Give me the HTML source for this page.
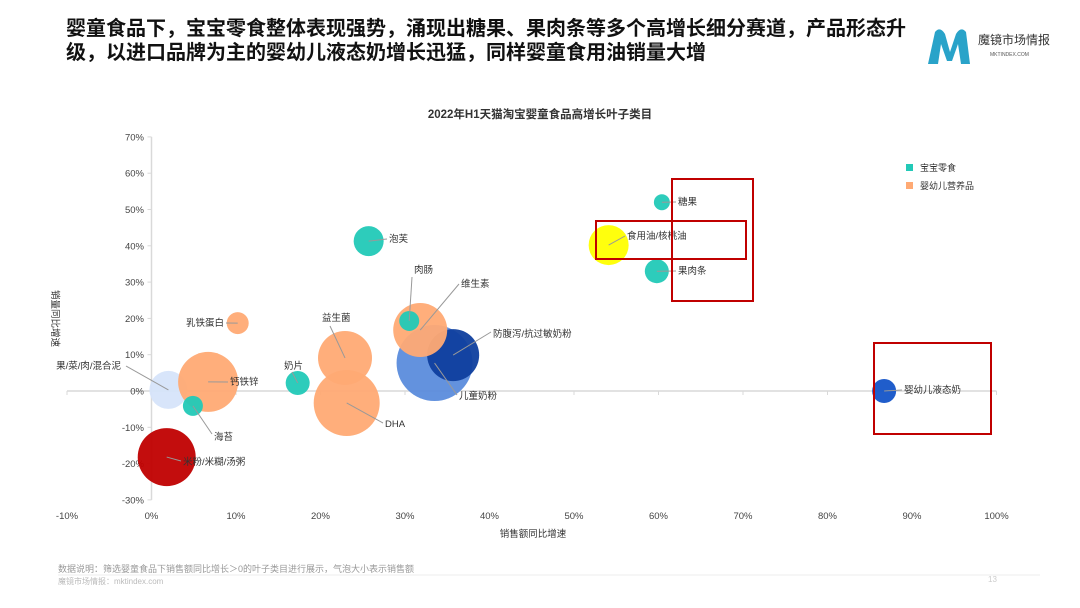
<!DOCTYPE html>
<html><head><meta charset="utf-8"><style>
body{margin:0;width:1080px;height:608px;background:#fff;overflow:hidden;position:relative;font-family:"Liberation Sans","Noto Sans CJK SC",sans-serif}
.h{position:absolute;left:66px;top:17px;font-size:20px;font-weight:bold;line-height:24px;color:#111;width:855px}
svg{position:absolute;left:0;top:0}
</style></head><body>
<div class="h">婴童食品下，宝宝零食整体表现强势，涌现出糖果、果肉条等多个高增长细分赛道，产品形态升级，以进口品牌为主的婴幼儿液态奶增长迅猛，同样婴童食用油销量大增</div>
<svg width="1080" height="608" id="c">
<g>
<path d="M928 64 L935 32 Q940 26 945 34 L950 52 L956 34 Q961 26 966 32 L970 64 L961 64 L958 44 L952 61 L947 61 L941 44 L938 64 Z" fill="#29a3c9"/>
<text x="978" y="44" font-size="12" fill="#333">魔镜市场情报</text>
<text x="990" y="56" font-size="5" fill="#555">MKTINDEX.COM</text>
</g>
<text x="540" y="118" text-anchor="middle" font-size="11.5" font-weight="bold" fill="#333">2022年H1天猫淘宝婴童食品高增长叶子类目</text>
<text x="533" y="537" text-anchor="middle" font-size="9.5" fill="#333">销售额同比增速</text>
<text transform="translate(52,290) rotate(90)" font-size="9.5" fill="#333">销量同比增速</text>
<g>
<rect x="906" y="164" width="7" height="7" fill="#22c9b7"/><text x="920" y="171" font-size="9" fill="#333">宝宝零食</text>
<rect x="906" y="182" width="7" height="7" fill="#ffaa74"/><text x="920" y="189" font-size="9" fill="#333">婴幼儿营养品</text>
</g>
<g id="plot"></g>
<g fill="none" stroke="#c00000" stroke-width="2">
<rect x="672" y="179" width="81" height="122"/><rect x="596" y="221" width="150" height="38"/><rect x="874" y="343" width="117" height="91"/>
</g>
<text x="58" y="572" font-size="9" fill="#999">数据说明：筛选婴童食品下销售额同比增长＞0的叶子类目进行展示，气泡大小表示销售额</text>
<text x="58" y="584" font-size="8" fill="#bbb">魔镜市场情报：mktindex.com</text>
<line x1="58" y1="575" x2="1040" y2="575" stroke="#eee"/>
<text x="988" y="582" font-size="8" fill="#ccc">13</text>
</svg>
<script>
const names=["米粉/米糊/汤粥","果/菜/肉/混合泥","钙铁锌","海苔","乳铁蛋白","奶片","DHA","益生菌","儿童奶粉","防腹泻/抗过敏奶粉","维生素","肉肠","泡芙","食用油/核桃油","果肉条","糖果","婴幼儿液态奶"];
const xVals=[1.8,2.0,6.7,4.9,10.2,17.3,23.1,22.9,33.5,35.7,31.8,30.5,25.7,54.1,59.8,60.4,86.7];
const yVals=[-18.2,0.3,2.5,-4.1,18.7,2.2,-3.3,9.1,7.7,9.9,16.8,19.3,41.3,40.2,33,52,0];
const sizes=[29,19,30,10,11,12,33,27,38,26,27,10,15,20,12,8,12];
const colors=["#c00000","#d6e4fa","#ffaa74","#22c9b7","#ffaa74","#22c9b7","#ffaa74","#ffaa74","#5b8cdc","#0f3f9e","#ffaa74","#22c9b7","#22c9b7","#ffff00","#22c9b7","#22c9b7","#1454c8"];
const xTicks=[-10,0,10,20,30,40,50,60,70,80,90,100];
const yTicks=[70,60,50,40,30,20,10,0,-10,-20,-30];
const labelPos=[[183,465,"start",181,461],[121,369,"end",126,366],[230,385,"start",228,382],[214,440,"start",212,434],[224,326,"end",226,323],[284,369,"start",292,372],[385,427,"start",383,423],[322,321,"start",330,326],[459,399,"start",457,395],[493,337,"start",491,332],[461,287,"start",459,284],[414,273,"start",412,277],[389,242,"start",387,239],[627,239,"start",625,236],[678,274,"start",676,271],[678,205,"start",676,202],[904,393,"start",902,390]];
const X=v=>151.5+v*8.45, Y=v=>391-v*3.63;
const ns="http://www.w3.org/2000/svg", g=document.getElementById('plot');
function mk(t,a){const e=document.createElementNS(ns,t);for(const k in a)e.setAttribute(k,a[k]);g.appendChild(e);return e;}
let e=mk('line',{x1:X(-10),x2:X(100),y1:Y(0),y2:Y(0),stroke:'#d9d9d9','stroke-width':1.5});


e=mk('line',{x1:X(0),x2:X(0),y1:Y(70),y2:Y(-30),stroke:'#d9d9d9','stroke-width':1.5});


xTicks.forEach(t=>{mk('line',{x1:X(t),x2:X(t),y1:Y(0),y2:Y(0)+4,stroke:'#d9d9d9'});
 const l=mk('text',{x:X(t),y:519,'text-anchor':'middle','font-size':9.5,fill:'#444'});l.textContent=t+'%';
 
 });
yTicks.forEach(t=>{mk('line',{x1:X(0)-4,x2:X(0),y1:Y(t),y2:Y(t),stroke:'#d9d9d9'});
 const l=mk('text',{x:144,y:Y(t)+3.5,'text-anchor':'end','font-size':9.5,fill:'#444'});l.textContent=t+'%';
 
 });
names.forEach((n,i)=>{
 const c=mk('circle',{cx:X(xVals[i]),cy:Y(yVals[i]),r:sizes[i],fill:colors[i],opacity:0.95});
 
 
});
names.forEach((n,i)=>{
 const p=labelPos[i];
 mk('line',{x1:X(xVals[i]),y1:Y(yVals[i]),x2:p[3],y2:p[4],stroke:'#999','stroke-width':1});
 const t=mk('text',{x:p[0],y:p[1],'font-size':9.5,fill:'#333','text-anchor':p[2]});t.textContent=n;
 
 
});
</script>
</body></html>
